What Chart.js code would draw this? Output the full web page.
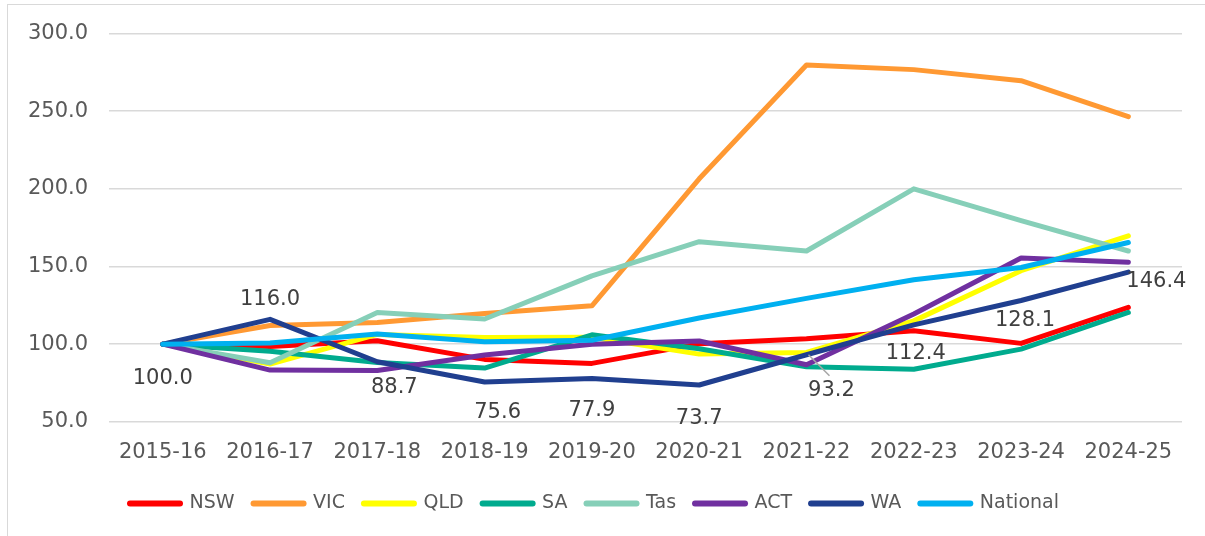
<!DOCTYPE html>
<html>
<head>
<meta charset="utf-8">
<script src="https://cdn.jsdelivr.net/npm/chart.js@4.4.1/dist/chart.umd.min.js"></script>
<style>
  html, body { margin: 0; padding: 0; background: #fff; }
  #wrap { position: relative; width: 1205px; height: 536px; overflow: hidden; }
  #frame { position: absolute; left: 7px; top: 4px; width: 1300px; height: 600px; border: 1px solid #d9d9d9; box-sizing: border-box; }
  canvas { position: absolute; left: 0; top: 0; }
</style>
</head>
<body>
<div id="wrap">
  <div id="frame"></div>
  <canvas id="chart" width="1205" height="536"></canvas>
</div>
<script>
// index values, 2015-16 = 100
const years = ["2015-16", "2016-17", "2017-18", "2018-19", "2019-20", "2020-21", "2021-22", "2022-23", "2023-24", "2024-25"];

const nsw = [100, 98.5, 102.2, 90.2, 87.6, 100.2, 103.5, 108.6, 100.5, 123.7];
const vic = [100, 112.0, 114.0, 119.8, 124.7, 206.5, 279.8, 276.8, 269.7, 246.5];
const qld = [100, 87.2, 106.3, 104.3, 104.5, 93.6, 94.7, 115.0, 147.3, 169.8];
const sa = [100, 95.5, 88.2, 84.6, 106.0, 97.0, 85.4, 83.8, 96.8, 120.4];
const tas = [100, 88.0, 120.4, 116.2, 144.0, 166.0, 160.0, 200.0, 179.5, 160.0];
const act = [100, 83.3, 83.0, 93.0, 100.0, 102.0, 86.7, 119.4, 155.5, 152.7];
const wa = [100, 116.0, 88.7, 75.6, 77.9, 73.7, 93.2, 112.4, 128.1, 146.4];
const national = [100, 100.8, 106.5, 101.5, 102.5, 116.8, 129.5, 141.5, 149.4, 165.5];

const yTicks = [50, 100, 150, 200, 250, 300];

// where the WA value labels sit relative to their point
const waLabelOffsets = [[0, 34], [0, -20], [17, 26], [13, 30], [0, 32], [0, 34], [25, 36], [2, 29], [4, 20], [28, 9]];

const series = [
  { label: "NSW", data: nsw, color: "#ff0000" },
  { label: "VIC", data: vic, color: "#ff9933" },
  { label: "QLD", data: qld, color: "#ffff00" },
  { label: "SA", data: sa, color: "#00ab8e" },
  { label: "Tas", data: tas, color: "#86cfb8" },
  { label: "ACT", data: act, color: "#7030a0" },
  { label: "WA", data: wa, color: "#203f8f" },
  { label: "National", data: national, color: "#00b0f0" },
];

const FONT = "'DejaVu Sans', sans-serif";

const waLabels = {
  id: "waLabels",
  afterDatasetsDraw(chart) {
    const idx = series.findIndex(s => s.label === "WA");
    const meta = chart.getDatasetMeta(idx);
    const ctx = chart.ctx;
    ctx.save();
    ctx.font = "21px " + FONT;
    ctx.fillStyle = "#404040";
    ctx.textAlign = "center";
    ctx.textBaseline = "middle";
    meta.data.forEach((pt, i) => {
      const [dx, dy] = waLabelOffsets[i];
      if (i === 6) {
        ctx.strokeStyle = "#a6a6a6";
        ctx.lineWidth = 1.5;
        ctx.beginPath();
        ctx.moveTo(pt.x + 2, pt.y);
        ctx.lineTo(pt.x + dx - 2, pt.y + dy - 15);
        ctx.stroke();
      }
      ctx.fillText(wa[i].toFixed(1), pt.x + dx, pt.y + dy);
    });
    ctx.restore();
  }
};

new Chart(document.getElementById("chart"), {
  type: "line",
  data: {
    labels: years,
    datasets: series.map((s, i) => ({
      label: s.label,
      data: s.data,
      borderColor: s.color,
      backgroundColor: s.color,
      borderWidth: 5,
      borderCapStyle: "round",
      borderJoinStyle: "round",
      pointRadius: 0,
      tension: 0,
      fill: false,
      order: series.length - i,
    })),
  },
  options: {
    responsive: false,
    animation: false,
    devicePixelRatio: 1,
    layout: { padding: { left: 7, right: 23, top: 24, bottom: 13 } },
    plugins: {
      tooltip: { enabled: false },
      legend: {
        position: "bottom",
        labels: {
          usePointStyle: true,
          pointStyle: "line",
          pointStyleWidth: 50,
          padding: 19,
          color: "#595959",
          font: { family: FONT, size: 19 },
          sort: (a, b) => a.datasetIndex - b.datasetIndex,
          generateLabels: chart => chart.data.datasets.map((d, i) => ({
            text: d.label,
            strokeStyle: d.borderColor,
            fillStyle: d.borderColor,
            lineWidth: 6,
            lineCap: "round",
            pointStyle: "line",
            fontColor: "#595959",
            datasetIndex: i,
            hidden: false,
          })),
        },
      },
    },
    scales: {
      x: {
        offset: true,
        grid: { display: false },
        border: { display: false },
        ticks: { color: "#595959", font: { family: FONT, size: 21 }, padding: 10, maxRotation: 0 },
      },
      y: {
        min: 50,
        max: 300,
        afterBuildTicks: axis => { axis.ticks = yTicks.map(v => ({ value: v })); },
        grid: { color: "#d9d9d9", lineWidth: 1.5, drawTicks: false },
        border: { display: false },
        ticks: { color: "#595959", font: { family: FONT, size: 21 }, padding: 21, callback: v => v.toFixed(1) },
      },
    },
  },
  plugins: [waLabels],
});
</script>
</body>
</html>
